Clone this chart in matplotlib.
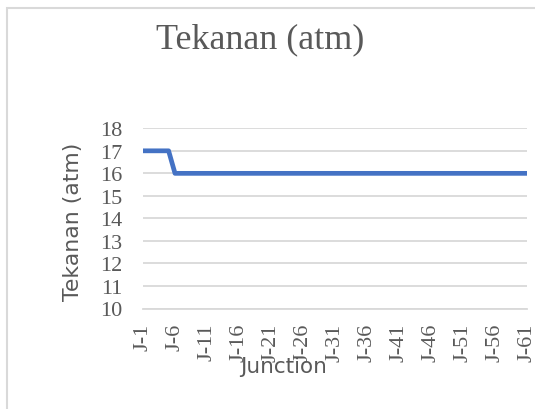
import matplotlib
matplotlib.use("Agg")
import matplotlib.pyplot as plt
from matplotlib.patches import Rectangle

# data
junctions = [f"J-{i}" for i in range(1, 62)]
pressure = [17] * 5 + [16] * 56
y_ticks = list(range(10, 19))

text_gray = "#595959"
grid_gray = "#d9d9d9"
line_blue = "#4472C4"

W, H = 535, 410
fig = plt.figure(figsize=(W / 100, H / 100), dpi=100)

# chart area border (only top/left edges show in the crop)
fig.patches.append(Rectangle((6.5 / W, -0.1), 1.2, 1 - 8.5 / H + 0.1,
                             transform=fig.transFigure, fill=False,
                             edgecolor=grid_gray, linewidth=1.5))

ax = fig.add_axes([143 / W, 1 - 309.5 / H, (527 - 143) / W, (309.5 - 129.3) / H])

x = list(range(len(junctions)))
ax.plot(x, pressure, color=line_blue, linewidth=3.4, solid_capstyle="round",
        solid_joinstyle="round", zorder=3)

ax.set_xlim(0, len(junctions) - 1)
ax.set_ylim(10, 18)
ax.set_yticks(y_ticks)
ax.set_yticklabels([str(v) for v in y_ticks], family="Liberation Serif",
                   fontsize=16, color=text_gray)
ax.set_xticks(x[::5])
ax.set_xticklabels(junctions[::5], family="Liberation Serif", fontsize=16,
                   color=text_gray, rotation=90, va="top", ha="center")
ax.tick_params(axis="y", length=0, pad=15)
ax.tick_params(axis="x", length=0, pad=10)

ax.grid(axis="y", color=grid_gray, linewidth=1.3)
ax.set_axisbelow(True)
for side in ["top", "right", "left"]:
    ax.spines[side].set_visible(False)
ax.spines["bottom"].set_color(grid_gray)
ax.spines["bottom"].set_linewidth(1.3)

fig.text(260 / W, 1 - 48 / H, "Tekanan (atm)", family="Liberation Serif",
         fontsize=26, color=text_gray, ha="center", va="baseline")
fig.text(73 / W, 1 - 222 / H, "Tekanan (atm)", family="DejaVu Sans",
         fontsize=15.8, color=text_gray, ha="center", va="center", rotation=90)
fig.text(284 / W, 1 - 367 / H, "Junction", family="DejaVu Sans",
         fontsize=15.5, color=text_gray, ha="center", va="center", zorder=5)

fig.savefig("out.png", dpi=100)
